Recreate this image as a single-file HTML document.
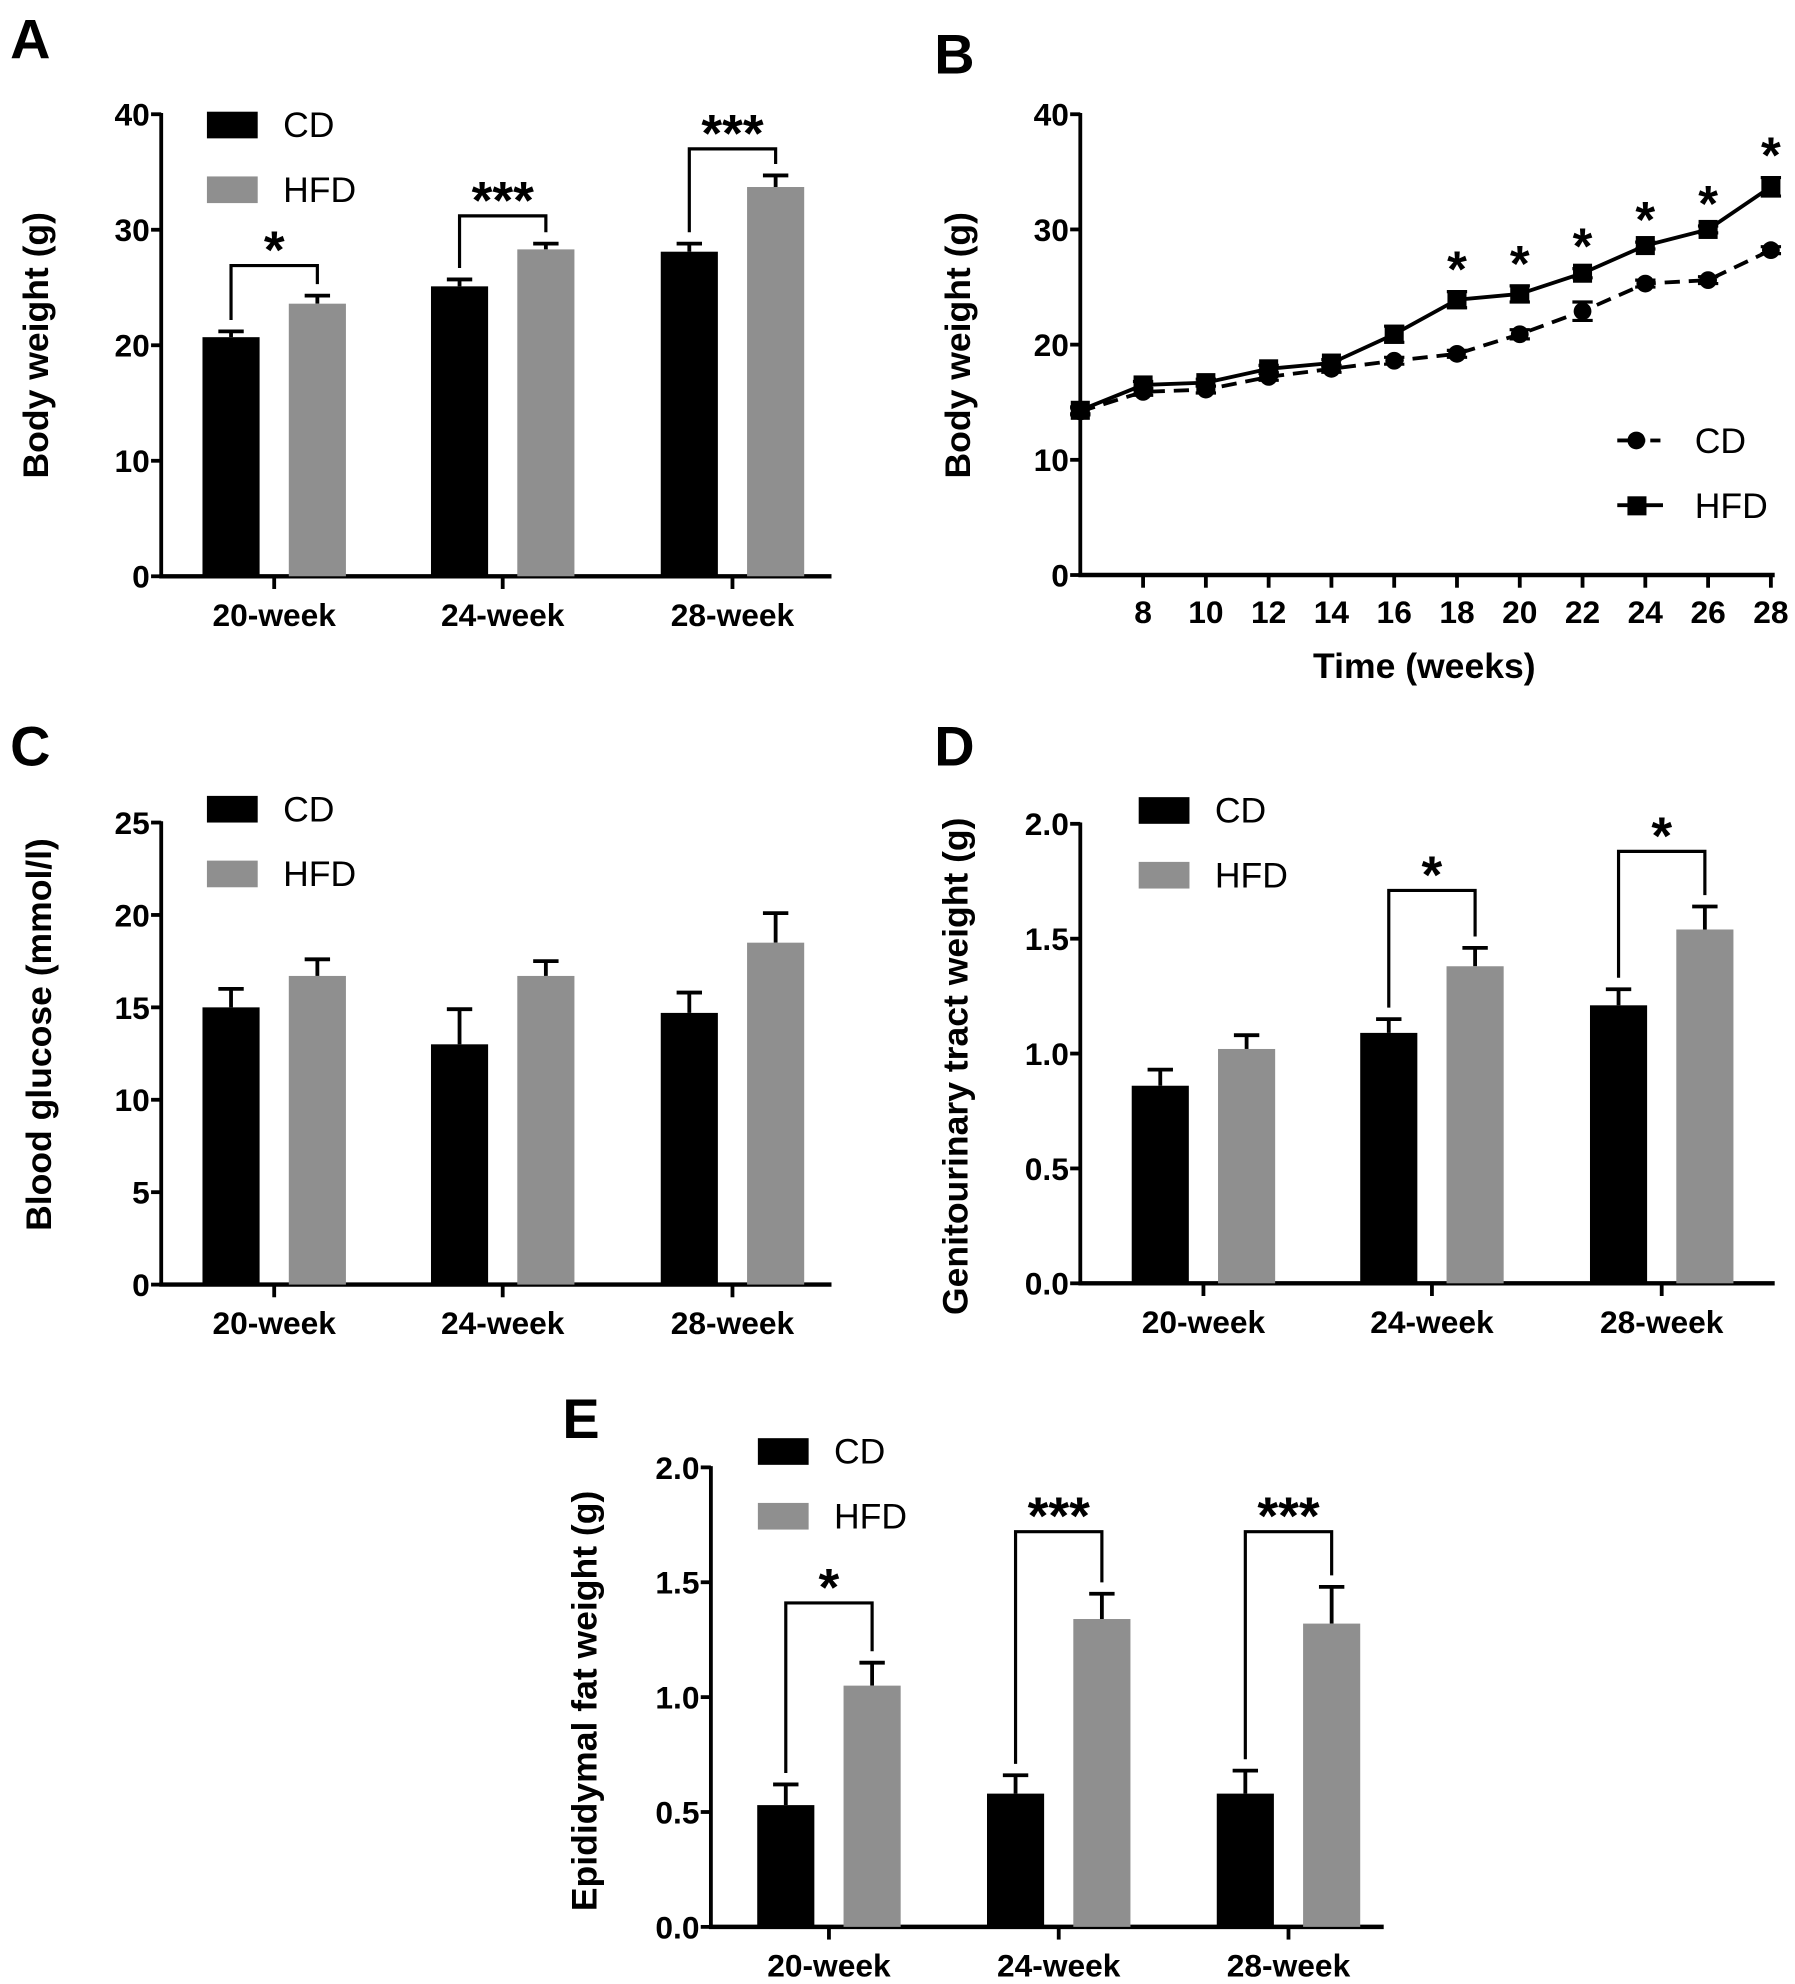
<!DOCTYPE html>
<html><head><meta charset="utf-8"><style>
html,body{margin:0;padding:0;background:#fff}
svg{display:block}
text{font-family:"Liberation Sans",Arial,sans-serif}
</style></head><body>
<svg id="fig" width="1795" height="1984" viewBox="0 0 1414 1563" preserveAspectRatio="none" xmlns="http://www.w3.org/2000/svg">
<text x="8" y="46" font-size="44" font-weight="bold">A</text>
<text x="736" y="58" font-size="44" font-weight="bold">B</text>
<text x="8" y="603" font-size="44" font-weight="bold">C</text>
<text x="736" y="603" font-size="44" font-weight="bold">D</text>
<text x="443" y="1133" font-size="44" font-weight="bold">E</text>
</svg>
<script>
// ---- data ----
const groups = ["20-week","24-week","28-week"];
const aCD = [20.7, 25.1, 28.1];
const aCDerr = [0.5, 0.6, 0.7];
const aHFD = [23.6, 28.3, 33.7];
const aHFDerr = [0.7, 0.5, 1.0];
const aSig = ["*","***","***"];
const aBracket = [26.9, 31.2, 37.0];

const cCD = [15.0, 13.0, 14.7];
const cCDerr = [1.0, 1.9, 1.1];
const cHFD = [16.7, 16.7, 18.5];
const cHFDerr = [0.9, 0.8, 1.6];
const cSig = ["","",""];
const cBracket = [0,0,0];

const dCD = [0.86, 1.09, 1.21];
const dCDerr = [0.07, 0.06, 0.07];
const dHFD = [1.02, 1.38, 1.54];
const dHFDerr = [0.06, 0.08, 0.10];
const dSig = ["","*","*"];
const dBracket = [0, 1.71, 1.88];

const eCD = [0.53, 0.58, 0.58];
const eCDerr = [0.09, 0.08, 0.10];
const eHFD = [1.05, 1.34, 1.32];
const eHFDerr = [0.10, 0.11, 0.16];
const eSig = ["*","***","***"];
const eBracket = [1.41, 1.72, 1.72];

const bWeeks = [6,8,10,12,14,16,18,20,22,24,26,28];
const bCD = [14.2,15.9,16.1,17.2,17.9,18.6,19.2,20.9,22.9,25.3,25.6,28.2];
const bCDerr = [0.3,0.3,0.3,0.3,0.3,0.3,0.3,0.4,0.8,0.3,0.3,0.3];
const bHFD = [14.3,16.5,16.7,17.9,18.4,20.9,23.9,24.4,26.2,28.6,30.0,33.7];
const bHFDerr = [0.3,0.3,0.3,0.3,0.3,0.7,0.7,0.7,0.4,0.3,0.3,0.8];
const bSig = ["","","","","","","*","*","*","*","*","*"];
const bTickLabels = ["8","10","12","14","16","18","20","22","24","26","28"];

// ---- helpers ----
const NS="http://www.w3.org/2000/svg";
const svg=document.getElementById('fig');
function mk(tag,attrs,parent){const e=document.createElementNS(NS,tag);for(const k in attrs)e.setAttribute(k,attrs[k]);(parent||svg).appendChild(e);return e;}
function line(x1,y1,x2,y2,w,p,dash){const a={x1,y1,x2,y2,stroke:'#000','stroke-width':w||3};if(dash)a['stroke-dasharray']=dash;return mk('line',a,p);}
function txt(x,y,s,size,anchor,bold,p){const t=mk('text',{x,y,'font-size':size,'text-anchor':anchor||'start','font-weight':bold?'bold':'normal'},p);t.textContent=s;return t;}

function barChart(cfg){
  const g=mk('g',{});
  
  
  const y=v=>cfg.y0-(v/cfg.max)*(cfg.y0-cfg.yTop);
  const ax=line(cfg.ax,cfg.yTop-1,cfg.ax,cfg.y0+1.5,3,g);
  
  
  cfg.ticks.forEach((t,i)=>{
    const v=cfg.tickVals[i];
    line(cfg.ax-8,y(v),cfg.ax,y(v),3,g);
    const tl=txt(cfg.ax-9,y(v)+9,t,25,'end',true,g);
    
    
  });
  const xa=line(cfg.ax-1.5,cfg.y0,cfg.axEnd,cfg.y0,3.5,g);
  
  
  groups.forEach((lab,i)=>{
    const c=cfg.centers[i];
    line(c,cfg.y0,c,cfg.y0+10,3,g);
    const xl=txt(c,cfg.y0+39,lab,25,'middle',true,g);
    
    
    const series=[[cfg.cd,cfg.cdErr,'#000',c-cfg.off],[cfg.hfd,cfg.hfdErr,'#8f8f8f',c+cfg.off]];
    const tops=[];
    series.forEach((s,j)=>{
      const v=s[0][i],e=s[1][i],bx=s[3];
      const top=y(v+e);tops.push(top);
      line(bx,y(v),bx,top,3,g);
      line(bx-10,top,bx+10,top,3,g);
      const r=mk('rect',{x:bx-cfg.bw/2,y:y(v),width:cfg.bw,height:cfg.y0-y(v),fill:s[2]},g);
      
      
    });
    if(cfg.sig[i]){
      const by=y(cfg.bracket[i]);
      const x1=c-cfg.off,x2=c+cfg.off;
      const p=mk('path',{d:`M${x1},${tops[0]-9} L${x1},${by} L${x2},${by} L${x2},${tops[1]-9}`,fill:'none',stroke:'#000','stroke-width':2.5},g);
      
      
      const st=txt(c,by+2,cfg.sig[i],42,'middle',true,g);
      
      
    }
  });
  const lg=mk('g',{},g);
  
  
  mk('rect',{x:cfg.legX,y:cfg.legY-10,width:40,height:21,fill:'#000'},lg);
  txt(cfg.legX+60,cfg.legY+10,'CD',28,'start',false,lg);
  mk('rect',{x:cfg.legX,y:cfg.legY+41,width:40,height:21,fill:'#8f8f8f'},lg);
  txt(cfg.legX+60,cfg.legY+61,'HFD',28,'start',false,lg);
  const yt=txt(0,0,cfg.title,28,'middle',true,g);
  yt.setAttribute('transform',`translate(${cfg.titleX},${cfg.titleY}) rotate(-90)`);
  
  
}

barChart({name:'panel-a-body-weight-bars',ax:127,yTop:90,y0:454,axEnd:655,max:40,ticks:["0","10","20","30","40"],tickVals:[0,10,20,30,40],
  centers:[216,396,577],off:34,bw:45,cd:aCD,cdErr:aCDerr,hfd:aHFD,hfdErr:aHFDerr,sig:aSig,bracket:aBracket,
  legX:163,legY:98,title:'Body weight (g)',titleX:38,titleY:272});
barChart({name:'panel-c-blood-glucose-bars',ax:127,yTop:648,y0:1012,axEnd:655,max:25,ticks:["0","5","10","15","20","25"],tickVals:[0,5,10,15,20,25],
  centers:[216,396,577],off:34,bw:45,cd:cCD,cdErr:cCDerr,hfd:cHFD,hfdErr:cHFDerr,sig:cSig,bracket:cBracket,
  legX:163,legY:637,title:'Blood glucose (mmol/l)',titleX:40,titleY:815});
barChart({name:'panel-d-genitourinary-bars',ax:851,yTop:649,y0:1011,axEnd:1398,max:2,ticks:["0.0","0.5","1.0","1.5","2.0"],tickVals:[0,0.5,1,1.5,2],
  centers:[948,1128,1309],off:34,bw:45,cd:dCD,cdErr:dCDerr,hfd:dHFD,hfdErr:dHFDerr,sig:dSig,bracket:dBracket,
  legX:897,legY:638,title:'Genitourinary tract weight (g)',titleX:762,titleY:840});
barChart({name:'panel-e-epididymal-fat-bars',ax:560,yTop:1156,y0:1518,axEnd:1090,max:2,ticks:["0.0","0.5","1.0","1.5","2.0"],tickVals:[0,0.5,1,1.5,2],
  centers:[653,834,1015],off:34,bw:45,cd:eCD,cdErr:eCDerr,hfd:eHFD,hfdErr:eHFDerr,sig:eSig,bracket:eBracket,
  legX:597,legY:1143,title:'Epididymal fat weight (g)',titleX:470,titleY:1340});

// ---- panel B line chart ----
(function(){
  const g=mk('g',{});
  
  
  const ax=851,yTop=90,y0=453,axEnd=1398;
  const x=w=>ax+(w-6)*(1395-ax)/22;
  const y=v=>y0-v/40*(y0-yTop);
  const ya=line(ax,yTop-1,ax,y0+1.5,3,g);
  
  
  [0,10,20,30,40].forEach(v=>{line(ax-8,y(v),ax,y(v),3,g);const t=txt(ax-9,y(v)+9,String(v),25,'end',true,g);});
  const xa=line(ax-1.5,y0,axEnd,y0,3.5,g);
  
  
  bTickLabels.forEach(l=>{const xx=x(+l);line(xx,y0,xx,y0+10,3,g);const t=txt(xx,y0+38,l,25,'middle',true,g);});
  const xt=txt(1122,534,'Time (weeks)',28,'middle',true,g);
  
  
  const yt=txt(0,0,'Body weight (g)',28,'middle',true,g);
  yt.setAttribute('transform','translate(764,272) rotate(-90)');
  
  
  function series(vals,errs,dash,square,name){
    const sg=mk('g',{},g);
    
    
    const pts=bWeeks.map((w,i)=>x(w)+','+y(vals[i])).join(' ');
    mk('polyline',{points:pts,fill:'none',stroke:'#000','stroke-width':3,'stroke-dasharray':dash||'none'},sg);
    bWeeks.forEach((w,i)=>{
      const cx=x(w),cy=y(vals[i]),e=errs[i];
      line(cx,y(vals[i]-e),cx,y(vals[i]+e),2.5,sg);
      line(cx-8,y(vals[i]-e),cx+8,y(vals[i]-e),2.5,sg);
      line(cx-8,y(vals[i]+e),cx+8,y(vals[i]+e),2.5,sg);
      let m;
      if(square) m=mk('rect',{x:cx-7.5,y:cy-7.5,width:15,height:15,fill:'#000'},sg);
      else m=mk('circle',{cx,cy,r:7,fill:'#000'},sg);
      
      
    });
  }
  series(bCD,bCDerr,'12,7',false,'series-cd');
  series(bHFD,bHFDerr,null,true,'series-hfd');
  bWeeks.forEach((w,i)=>{
    if(!bSig[i])return;
    const top=y(bHFD[i]+bHFDerr[i]);
    const s=txt(x(w),top-4,bSig[i],40,'middle',true,g);
    
    
  });
  const lg=mk('g',{},g);
  
  
  line(1274,347,1296,347,3,lg);line(1300,347,1308,347,3,lg);
  mk('circle',{cx:1289,cy:347,r:7,fill:'#000'},lg);
  txt(1335,357,'CD',28,'start',false,lg);
  line(1274,398,1310,398,3,lg);
  mk('rect',{x:1282,y:391,width:15,height:15,fill:'#000'},lg);
  txt(1335,408,'HFD',28,'start',false,lg);
})();
</script>
</body></html>
